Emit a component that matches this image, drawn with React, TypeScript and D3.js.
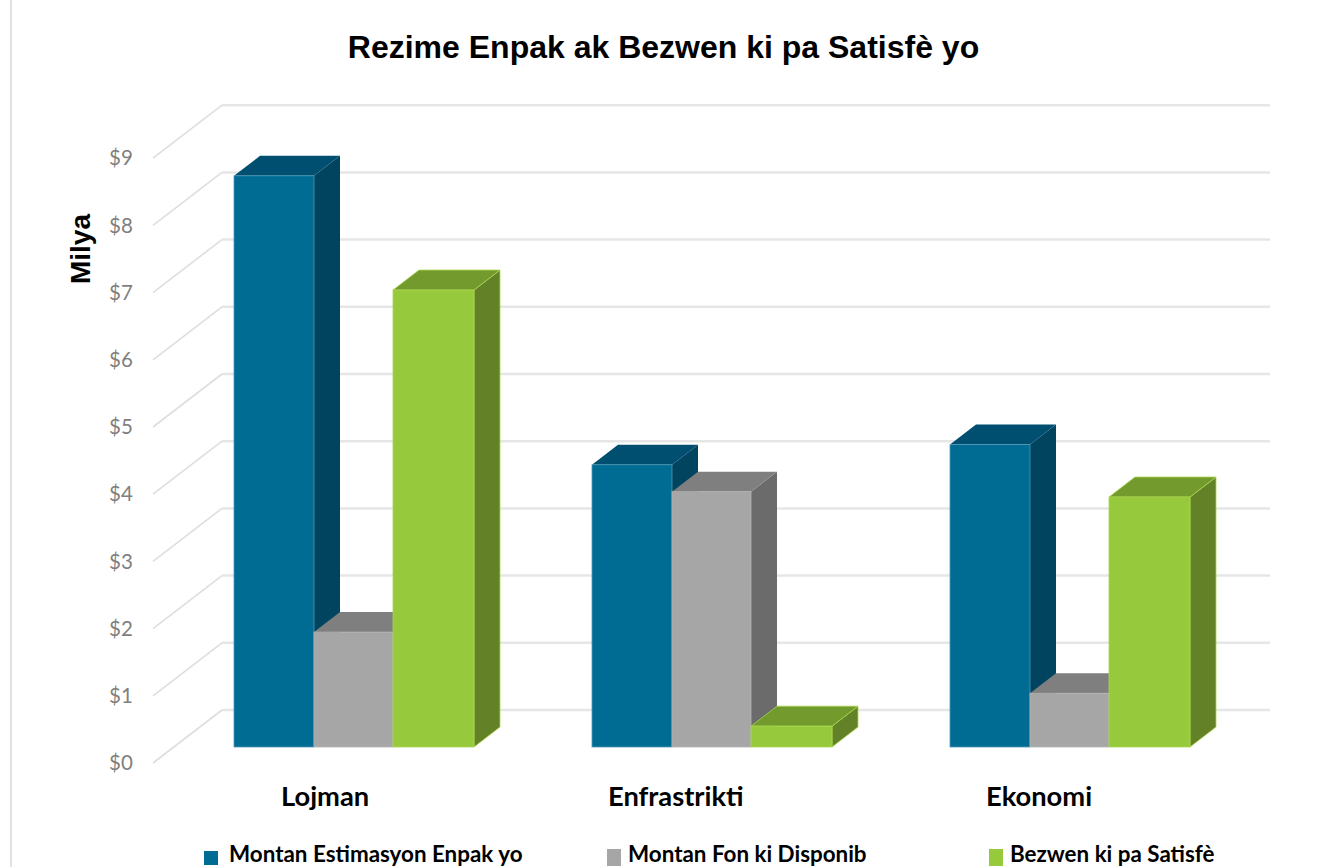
import React from "react";
import * as d3 from "d3";

const categories = ["Lojman", "Enfrastrikti", "Ekonomi"];
const seriesNames = ["Montan Estimasyon Enpak yo", "Montan Fon ki Disponib", "Bezwen ki pa Satisfè"];
const estimated = [8.5, 4.2, 4.5];
const available = [1.71, 3.8, 0.8];
const unmet = [6.8, 0.31, 3.72];
const ticks = [0, 1, 2, 3, 4, 5, 6, 7, 8, 9];
const categoryLabelX = [281, 608, 986];
const legendX = [204, 607, 989];

const front = ["#006c94", "#a6a6a6", "#97c93d"];
const edge = ["#4d98b5", "#b4b4b4", "#a9d64f"];
const top = ["#004f70", "#7f7f7f", "#739a2c"];
const side = ["#004460", "#6b6b6b", "#638127"];
const series = [estimated, available, unmet];

const W = 1337, H = 867;
const dx = 26, dy = 20;
const y = d3.scaleLinear().domain([0, 9]).range([747, 142.2]);
const cat = d3.scaleOrdinal<string, number>().domain(categories).range([234, 592, 950]);
const serEdge = d3.scaleOrdinal<number, number>().domain([0, 1, 2, 3]).range([0, 80, 159, 240]);
const sans = "'Liberation Sans', Arial, sans-serif";
const lato = "Lato, 'Open Sans', sans-serif";

export default function App() {
  return (
    <svg width={W} height={H} style={{ position: "fixed", left: 0, top: 0, background: "#fff" }}>
      <line x1={11} x2={11} y1={0} y2={H} stroke="#e0e0e0" strokeWidth={2} />
      <text x={663.5} y={58} textAnchor="middle" fontFamily={sans} fontWeight={700} fontSize={32} fill="#000">
        Rezime Enpak ak Bezwen ki pa Satisfè yo
      </text>
      <text transform="translate(90,249) rotate(-90)" textAnchor="middle" fontFamily={sans} fontWeight={700} fontSize={28} fill="#000">
        Milya
      </text>

      {ticks.map((t) => {
        const yFront = y(t) + 16;
        const yBack = y(t) - 37;
        return (
          <g key={t}>
            <line x1={153} y1={yFront} x2={222} y2={yBack} stroke="#dedede" strokeWidth={1.6} />
            <line x1={222} y1={yBack} x2={1270} y2={yBack} stroke="#e6e6e6" strokeWidth={2.5} />
            <text x={121} y={yFront} dy="0.35em" textAnchor="middle" fontFamily={lato} fontSize={20.5} fill="#7f7f7f">
              {"$" + t}
            </text>
          </g>
        );
      })}

      {categories.map((c, ci) => (
        <g key={c}>
          {[0, 1, 2].map((si) => {
            const x0 = cat(c) + serEdge(si);
            const x1 = cat(c) + serEdge(si + 1);
            const yt = y(series[si][ci]);
            const yb = y(0);
            return (
              <g key={si}>
                <path d={`M${x1},${yt}L${x1 + dx},${yt - dy}L${x1 + dx},${yb - dy}L${x1},${yb}Z`} fill={side[si]} stroke={si === 2 ? edge[si] : "none"} strokeWidth={0.8} />
                <path d={`M${x0},${yt}L${x0 + dx},${yt - dy}L${x1 + dx},${yt - dy}L${x1},${yt}Z`} fill={top[si]} stroke={si === 2 ? edge[si] : "none"} strokeWidth={0.8} />
                <rect x={x0} y={yt} width={x1 - x0} height={yb - yt} fill={front[si]} stroke={edge[si]} strokeWidth={0.8} />
              </g>
            );
          })}
          <text x={categoryLabelX[ci]} y={806} fontFamily={lato} fontWeight={700} fontSize={27.3} fill="#000">
            {c}
          </text>
        </g>
      ))}

      {seriesNames.map((n, i) => (
        <g key={n}>
          <rect x={legendX[i]} y={i === 0 ? 851 : 849} width={14} height={i === 0 ? 14 : 17} fill={front[i]} />
          <text x={legendX[i] + (i === 0 ? 25 : 21)} y={862} fontFamily={lato} fontWeight={700} fontSize={22.4} fill="#000">
            {n}
          </text>
        </g>
      ))}
    </svg>
  );
}
